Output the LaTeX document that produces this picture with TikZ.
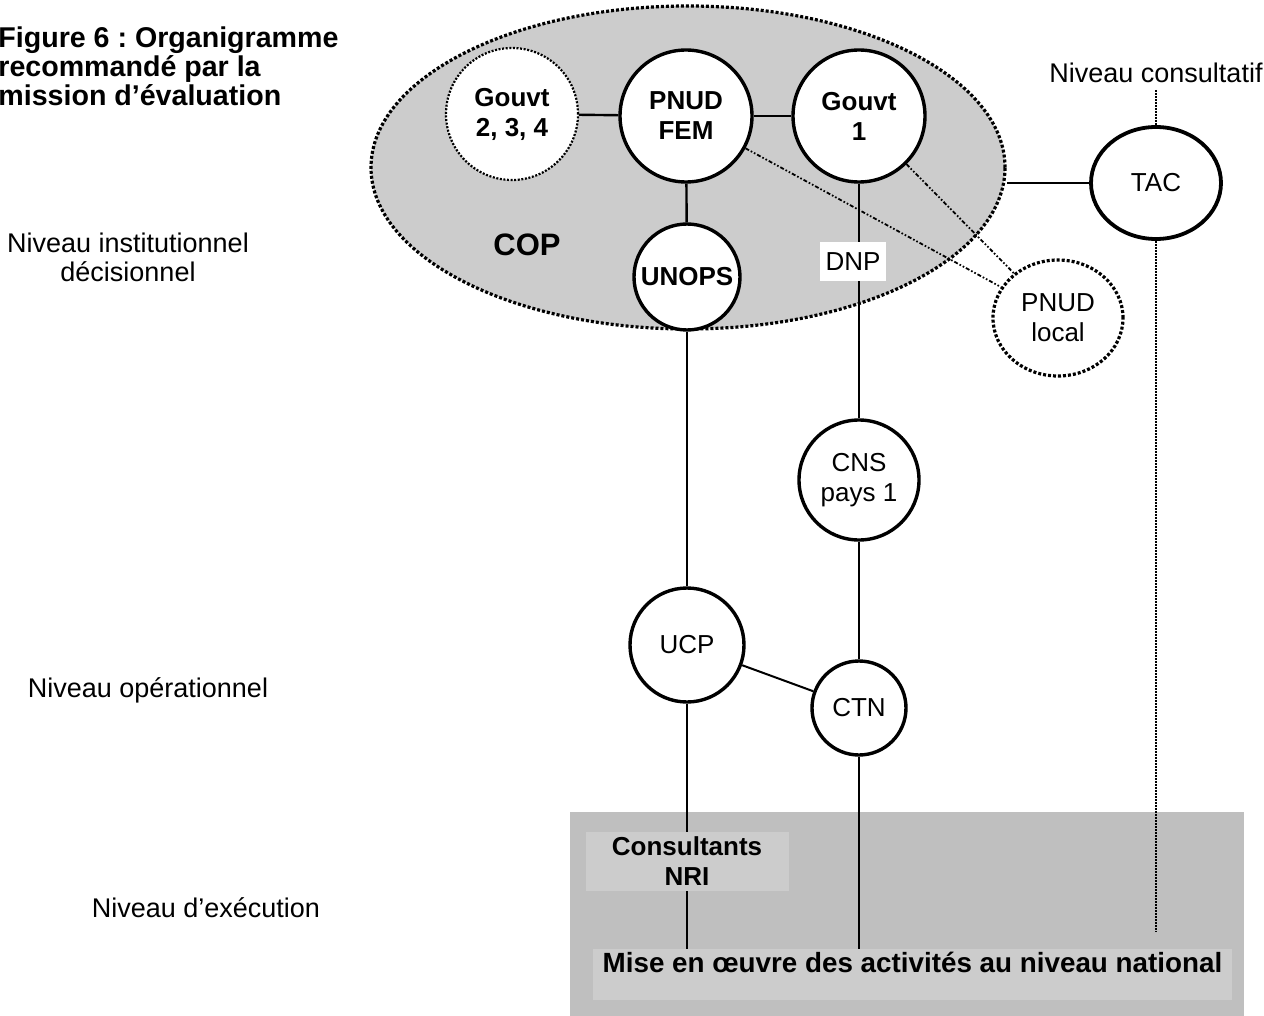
\documentclass[tikz,border=0pt]{standalone}
\usepackage{fontspec}
\setmainfont{Liberation Sans}
\usetikzlibrary{positioning,shapes.geometric}
\frenchspacing
\definecolor{copgray}{gray}{0.80}
\definecolor{basegray}{gray}{0.75}
\definecolor{boxgray}{gray}{0.80}
\tikzset{
        every node/.style={font=\fontsize{13}{15}\selectfont, align=center}, % Arial-like text everywhere
        orgnode/.style={circle, draw, line width=1.7pt, fill=white, inner sep=0pt}, % the round units
        boldtext/.style={font=\bfseries\fontsize{13}{15}\selectfont},
        link/.style={line width=1.2pt}, % plain connectors
        dotrim/.style={line width=1.6pt, dash pattern=on 1.5pt off 1pt}, % dotted outlines
        finedots/.style={line width=1.4pt, dash pattern=on 0.9pt off 0.6pt},
        dashdotdot/.style={line width=0.9pt, dash pattern=on 2pt off 1pt on 0.8pt off 1pt on 0.8pt off 1pt},
        levellabel/.style={font=\fontsize{13.5}{14.5}\selectfont},
    }

\begin{document}
\begin{tikzpicture}[x=0.5pt, y=-0.5pt]
    \useasboundingbox (0,0) rectangle (1264,1016);

    % levels
    \node[font=\bfseries\fontsize{14.3}{14.5}\selectfont, align=left, anchor=west, inner xsep=0pt] (title) at (-2,66)
      {Figure 6 : Organigramme\\recommandé par la\\mission d’évaluation};
    \node[levellabel] (inst) at (128,257) {Niveau institutionnel\\décisionnel};
    \node[levellabel] (oper) at (148,690) {Niveau opérationnel};
    \node[levellabel] (exec) at (206,908) {Niveau d’exécution};
    \node[levellabel] (consult) at (1156,73) {Niveau consultatif};

    % execution area
    \node[fill=basegray, minimum width=337pt, minimum height=102pt, inner sep=0pt] (base) at (907,914) {};
    \node[fill=boxgray, boldtext, minimum width=101.5pt, minimum height=29.5pt, inner sep=0pt] (cons) at (687,861.5) {Consultants\\NRI};
    \node[fill=boxgray, font=\bfseries\fontsize{13.9}{15}\selectfont, anchor=north,
          minimum width=319.5pt, text height=9.5pt, text depth=12pt, inner ysep=2pt] (mise) at (912.5,949)
      {Mise en œuvre des activités au niveau national};

    % COP
    \node[ellipse, draw, dotrim, fill=copgray, minimum width=317pt, minimum height=161.5pt, inner sep=0pt] (cop) at (688,167.5) {};
    \node[font=\bfseries\fontsize{15.5}{18}\selectfont] (coplabel) at (527,245) {COP};

    \node[orgnode, line width=1.1pt, dash pattern=on 1pt off 0.8pt, minimum size=66pt, boldtext] (gouvtb) at (512,114) {Gouvt\\2, 3, 4};
    \node[orgnode, minimum size=66pt, boldtext] (pnudfem) at (686,116) {PNUD\\FEM};
    \node[orgnode, minimum size=66pt, boldtext] (gouvta) at (859,116) {Gouvt\\1};
    \node[orgnode, minimum size=53pt, boldtext] (unops) at (687,277) {UNOPS};
    \node[ellipse, draw, line width=1.9pt, fill=white, minimum width=65pt, minimum height=56pt, inner sep=0pt] (tac) at (1156,183) {TAC};
    \node[ellipse, draw, dotrim, fill=white, minimum width=65pt, minimum height=58pt, inner sep=0pt] (local) at (1058,318) {PNUD\\local};

    % country level
    \node[orgnode, minimum size=60pt] (cns) at (859,480) {CNS\\pays 1};
    \node[orgnode, minimum size=57pt] (ucp) at (687,645) {UCP};
    \node[orgnode, minimum size=47pt] (ctn) at (859,708) {CTN};

    \coordinate (consulttop) at (1156,90);
    \coordinate (consultbot) at (1156,932);

    \draw[link] (gouvtb) -- (pnudfem);
    \draw[link] (pnudfem) -- (gouvta);
    \draw[link] (pnudfem) -- (unops);
    \draw[link] (unops) -- (ucp);
    \draw[link] (gouvta) -- (cns);
    \draw[link] (cns) -- (ctn);
    \draw[link, line width=1pt] (ucp) -- (ctn);
    \draw[link] (ucp) -- (cons);
    \draw[link] (cons) -- (cons |- mise.north);
    \draw[link] (ctn) -- (ctn |- mise.north);
    \draw[link] (tac.west) -- (tac.west -| cop.east);
    \draw[dashdotdot] (pnudfem) -- (local);
    \draw[dashdotdot] (gouvta) -- (local);
    \draw[finedots] (consulttop) -- (tac);
    \draw[finedots] (tac) -- (consultbot);

    \node[fill=white, minimum width=33pt, minimum height=19.5pt, inner sep=0pt] (dnp) at (853,262) {DNP};
  \end{tikzpicture}
\end{document}
